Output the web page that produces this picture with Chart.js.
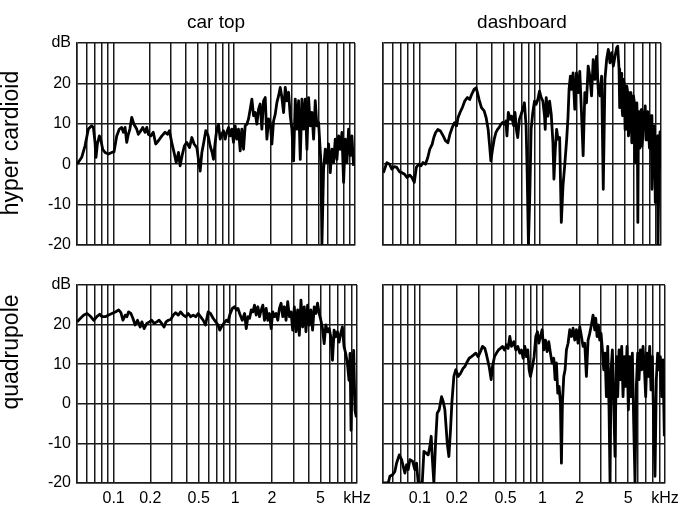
<!DOCTYPE html>
<html>
<head>
<meta charset="utf-8">
<script src="https://cdn.jsdelivr.net/npm/chart.js@4.4.1/dist/chart.umd.min.js"></script>
<style>
  html, body { margin: 0; padding: 0; background: #fff; }
  #page { position: relative; width: 680px; height: 512px; overflow: hidden; background: #fff; }
  .panel { position: absolute; }
</style>
</head>
<body>
<div id="page">
  <div class="panel" style="left:0;top:0"><canvas id="hyperCar" width="370" height="260"></canvas></div>
  <div class="panel" style="left:370px;top:0"><canvas id="hyperDash" width="310" height="260"></canvas></div>
  <div class="panel" style="left:0;top:260px"><canvas id="quadCar" width="370" height="252"></canvas></div>
  <div class="panel" style="left:370px;top:260px"><canvas id="quadDash" width="310" height="252"></canvas></div>
</div>
<script>
// frequency in kHz, level in dB
const gridFreqs = [0.05, 0.06, 0.07, 0.08, 0.09, 0.1, 0.2, 0.3, 0.4, 0.5, 0.6, 0.7, 0.8, 0.9,
                   1, 2, 3, 4, 5, 6, 7, 8, 9, 10];
const tickValues = [0.1, 0.2, 0.5, 1, 2, 5, 10];
const tickLabels = ['0.1', '0.2', '0.5', '1', '2', '5', 'kHz'];
const colTitles = ['car top', 'dashboard'];
const rowTitles = ['hyper cardioid', 'quadrupole'];

const hyperCarTop = [
  [0.05,0],[0.0547,1.7],[0.0582,4.5],[0.0621,8.7],[0.0661,9.5],[0.0683,9.1],[0.0705,5.4],[0.0718,1.7],
  [0.0737,5.0],[0.0766,7.0],[0.0785,6.2],[0.0816,3.7],[0.0853,2.9],[0.091,2.5],[0.0969,2.9],[0.1013,3.1],
  [0.1066,7.0],[0.1121,8.7],[0.1172,9.1],[0.121,7.9],[0.125,9.1],[0.129,5.4],[0.133,7.4],[0.137,8.7],
  [0.142,11.6],[0.148,9.9],[0.156,8.7],[0.161,7.4],[0.169,8.3],[0.175,9.1],[0.183,7.9],[0.189,9.1],
  [0.195,7.4],[0.204,7.0],[0.214,7.9],[0.224,5.0],[0.236,5.8],[0.252,7.0],[0.268,7.9],[0.28,7.4],
  [0.291,8.3],[0.304,5.4],[0.318,2.9],[0.331,0.4],[0.346,2.9],[0.357,-0.4],[0.373,2.5],[0.387,4.5],
  [0.405,5.4],[0.427,4.1],[0.446,6.6],[0.466,5.0],[0.491,4.1],[0.506,1.2],[0.523,-1.7],[0.54,2.9],
  [0.557,5.0],[0.582,8.3],[0.609,7.0],[0.633,4.5],[0.657,2.9],[0.674,1.2],[0.696,5.4],[0.718,8.7],
  [0.741,9.9],[0.766,6.2],[0.79,7.4],[0.816,8.3],[0.842,6.2],[0.869,7.9],[0.898,9.1],[0.927,7.0],
  [0.957,8.7],[0.987,5.4],[1.019,9.5],[1.052,6.2],[1.086,8.7],[1.121,3.3],[1.157,8.7],[1.195,3.7],
  [1.233,9.5],[1.273,9.9],[1.314,11.2],[1.357,13.6],[1.401,16.1],[1.446,12.0],[1.493,12.8],[1.541,9.9],
  [1.591,13.6],[1.642,14.9],[1.695,8.7],[1.75,15.7],[1.807,16.5],[1.865,6.2],[1.926,11.2],[1.988,10.3],
  [2.052,5.0],[2.118,10.7],[2.187,12.4],[2.258,15.3],[2.33,16.9],[2.406,19.0],[2.483,16.5],[2.564,12.8],
  [2.647,19.0],[2.732,15.7],[2.82,17.8],[2.911,12.0],[3.005,8.7],[3.102,0.8],[3.203,16.1],[3.306,8.7],
  [3.413,15.7],[3.523,1.2],[3.637,16.1],[3.754,8.7],[3.875,16.1],[4.0,3.7],[4.129,16.5],[4.263,9.5],
  [4.4,12.8],[4.542,6.2],[4.689,15.7],[4.84,9.5],[4.997,10.3],[5.224,0.4],[5.324,-19.8],[5.496,-1.2],
  [5.673,3.7],[5.856,0.4],[6.045,5.0],[6.24,-2.1],[6.442,3.7],[6.65,0.4],[6.865,6.2],[7.086,1.2],
  [7.315,7.0],[7.551,3.7],[7.795,7.9],[8.046,-4.5],[8.306,6.2],[8.574,0.4],[8.851,8.7],[9.137,2.1],
  [9.432,7.0],[9.737,-0.4]
];

const hyperDashboard = [
  [0.0504,-2.1],[0.0538,0.4],[0.0566,0],[0.0592,-1.2],[0.0619,-0.6],[0.0651,-0.8],[0.0685,-1.9],[0.0717,-2.1],
  [0.0755,-2.5],[0.0789,-3.3],[0.083,-2.7],[0.0869,-3.3],[0.0908,-4.5],[0.0944,-0.8],[0.0987,0],[0.1032,-0.4],
  [0.1073,0.4],[0.1122,0],[0.1173,1.6],[0.1219,3.7],[0.1275,4.9],[0.1317,6.6],[0.136,7.8],[0.1421,8.6],
  [0.1496,8.2],[0.1575,7.0],[0.1647,5.8],[0.1722,5.3],[0.179,7.4],[0.1872,9.1],[0.1957,10.3],[0.2034,9.5],
  [0.2087,11.5],[0.2169,12.8],[0.2268,14.0],[0.2371,15.6],[0.2496,16.5],[0.261,16.0],[0.2712,17.3],[0.2837,18.5],
  [0.2948,18.9],[0.3024,17.7],[0.3122,16.0],[0.3265,14.0],[0.3436,13.2],[0.3571,11.5],[0.371,8.6],[0.3807,4.9],
  [0.3906,0.8],[0.4033,3.7],[0.4164,6.2],[0.4299,7.8],[0.4439,8.6],[0.4583,9.1],[0.4732,9.9],[0.4886,10.3],
  [0.5044,9.9],[0.5208,10.7],[0.5309,7.0],[0.5446,12.8],[0.566,11.1],[0.5807,11.9],[0.6034,9.5],[0.619,12.8],
  [0.6351,8.6],[0.6516,6.6],[0.6728,11.1],[0.6946,12.3],[0.7172,13.6],[0.7404,15.2],[0.7644,9.5],[0.7793,-1.2],
  [0.7994,-19.8],[0.8201,-7.8],[0.8414,8.6],[0.8687,12.8],[0.897,15.6],[0.9261,14.8],[0.9562,16.0],[0.9872,18.1],
  [1.0194,16.5],[1.0524,15.6],[1.0866,11.9],[1.1006,8.6],[1.122,16.5],[1.1584,11.9],[1.1961,15.6],[1.2349,12.3],
  [1.275,5.3],[1.2997,-3.7],[1.3335,3.7],[1.368,8.6],[1.4035,6.2],[1.4491,6.6],[1.4962,-14.4],[1.5448,-5.3],
  [1.595,-0.4],[1.6574,6.2],[1.7006,11.9],[1.7336,18.5],[1.7783,21.8],[1.8127,18.5],[1.8717,22.6],[1.9325,13.6],
  [1.9953,22.6],[2.0601,17.7],[2.127,23.0],[2.1962,12.8],[2.2675,2.1],[2.3412,17.7],[2.4173,15.2],[2.4958,24.3],
  [2.577,21.8],[2.6607,16.9],[2.7471,25.9],[2.8364,21.0],[2.9286,26.7],[3.0237,18.5],[3.1219,16.9],[3.2233,21.8],
  [3.3281,-6.2],[3.4362,21.0],[3.5481,25.9],[3.6633,28.4],[3.7824,25.1],[3.9052,27.6],[4.0321,24.3],[4.163,26.7],
  [4.2983,28.8],[4.3816,29.2],[4.4953,23.5],[4.55,14.0],[4.6118,21.8],[4.67,22.5],[4.7315,15.2],[4.81,12.0],
  [4.8853,21.0],[4.96,20.0],[5.0439,8.6],[5.12,12.5],[5.2077,19.3],[5.29,18.0],[5.3772,7.0],[5.46,9.0],
  [5.5518,17.7],[5.64,16.5],[5.7322,5.3],[5.82,8.0],[5.9184,16.9],[6.01,15.5],[6.1107,0.4],[6.21,6.0],
  [6.3096,15.2],[6.37,10.0],[6.4318,-14.4],[6.51,13.0],[6.5986,8.6],[6.69,4.0],[6.7706,11.9],[6.86,13.5],
  [6.9467,4.5],[7.06,6.5],[7.1724,12.8],[7.29,9.0],[7.4039,14.4],[7.52,6.0],[7.6446,11.1],[7.77,13.0],
  [7.893,8.6],[8.02,4.0],[8.149,10.3],[8.28,12.0],[8.414,-6.2],[8.55,3.0],[8.6876,7.8],[8.83,9.5],
  [8.97,-9.5],[9.12,-2.0],[9.2612,6.2],[9.35,7.0],[9.4406,-19.8],[9.56,-8.0],[9.6852,3.7],[9.81,8.0],
  [9.9357,6.2],[10,-1.2]
];

const quadCarTop = [
  [0.0501,20.7],[0.0534,21.6],[0.0569,22.4],[0.0605,22.8],[0.0645,22.1],[0.0687,21.1],[0.0731,22.1],[0.0768,22.6],
  [0.0803,22.0],[0.0855,22.0],[0.091,22.4],[0.0969,22.8],[0.1032,23.2],[0.1099,23.7],[0.1148,23.0],[0.1192,21.1],
  [0.1246,22.4],[0.1285,22.0],[0.1326,23.2],[0.1386,22.8],[0.1439,21.6],[0.1503,19.9],[0.1571,21.1],[0.1652,19.4],
  [0.1705,20.7],[0.1781,19.0],[0.1873,20.3],[0.1969,20.7],[0.2058,21.1],[0.215,20.3],[0.2261,20.7],[0.2362,21.1],
  [0.2484,20.3],[0.2596,19.4],[0.2695,20.7],[0.2816,21.1],[0.2943,21.3],[0.3094,22.4],[0.3233,23.0],[0.3398,22.4],
  [0.3551,23.2],[0.3734,22.4],[0.3926,22.0],[0.4103,22.8],[0.4288,22.0],[0.4508,22.4],[0.474,22.0],[0.4953,22.8],
  [0.5176,22.0],[0.5442,21.1],[0.5687,19.9],[0.598,23.2],[0.6248,22.8],[0.657,21.6],[0.6907,20.7],[0.7217,19.9],
  [0.7446,18.6],[0.7684,19.4],[0.8028,20.3],[0.8442,21.1],[0.871,20.7],[0.899,22.4],[0.9452,24.1],[0.9876,24.5],
  [1.0191,23.7],[1.0515,24.1],[1.0849,22.8],[1.1407,21.1],[1.1919,22.8],[1.2301,19.0],[1.269,22.0],[1.3101,21.6],
  [1.3515,23.7],[1.3944,23.2],[1.4388,24.9],[1.4847,22.4],[1.532,24.5],[1.581,22.0],[1.6312,23.7],[1.6835,24.9],
  [1.737,21.1],[1.7924,24.1],[1.8493,21.1],[1.9085,22.8],[1.9694,19.0],[2.0322,23.2],[2.0969,22.0],[2.1636,22.8],
  [2.233,21.1],[2.304,24.1],[2.3774,25.4],[2.4529,22.0],[2.5315,24.5],[2.6121,21.1],[2.6952,25.8],[2.7809,22.0],
  [2.87,23.2],[2.9614,18.6],[3.0549,24.5],[3.1523,18.2],[3.2533,23.7],[3.357,17.3],[3.4638,26.2],[3.574,19.4],
  [3.6886,24.5],[3.8061,18.2],[3.9264,24.9],[4.0512,19.9],[4.1809,23.7],[4.314,18.6],[4.4513,24.5],[4.5929,22.8],
  [4.7389,25.4],[4.8905,22.8],[5.0466,21.1],[5.2071,19.0],[5.3728,15.2],[5.5452,19.9],[5.7216,18.2],[5.9036,19.0],
  [6.0914,16.9],[6.2866,11.0],[6.4863,18.6],[6.6928,16.9],[6.9057,18.2],[7.127,15.6],[7.3537,17.8],[7.5876,19.4],
  [7.829,14.4],[8.0799,12.7],[8.3368,10.2],[8.602,5.9],[8.766,12.7],[8.9331,-6.7],[9.16,8.5],[9.3926,13.5],
  [9.6316,-1.7],[9.8764,-3.4]
];

const quadDashboard = [
  [0.0502,-20],[0.0552,-20],[0.0569,-18.3],[0.0599,-17.9],[0.0625,-17.1],[0.0645,-15.0],[0.0679,-12.9],[0.0709,-14.1],
  [0.0731,-15.8],[0.0755,-17.5],[0.0779,-15.4],[0.0803,-16.6],[0.0829,-14.1],[0.0871,-14.5],[0.091,-16.6],[0.0939,-15.0],
  [0.0969,-20],[0.1,-20],[0.1045,-20],[0.1078,-12.0],[0.1119,-12.4],[0.1169,-12.9],[0.1206,-10.8],[0.1237,-8.2],
  [0.126,-13.3],[0.13,-20],[0.1342,-9.9],[0.1384,-2.4],[0.1437,-1.5],[0.1502,1.8],[0.155,0.6],[0.1599,-1.5],
  [0.1671,-9.9],[0.1724,-13.3],[0.1778,-6.6],[0.1823,0.2],[0.1893,6.9],[0.1965,8.6],[0.2054,6.9],[0.2146,7.7],
  [0.2256,9.0],[0.2328,9.4],[0.2402,10.3],[0.2525,11.5],[0.2638,11.9],[0.2756,12.4],[0.2861,12.8],[0.2989,11.9],
  [0.3123,13.2],[0.3243,14.5],[0.3388,14.0],[0.3495,12.4],[0.3675,9.4],[0.3815,6.1],[0.3912,9.4],[0.4061,11.9],
  [0.4217,12.8],[0.4378,13.6],[0.4546,14.0],[0.472,14.5],[0.49,13.6],[0.5088,14.9],[0.525,14.0],[0.5417,17.0],
  [0.5589,14.5],[0.5839,15.7],[0.6062,13.6],[0.6294,14.5],[0.6535,12.8],[0.6743,13.6],[0.6957,11.5],[0.7178,14.5],
  [0.7406,11.9],[0.7594,13.6],[0.7786,8.6],[0.7984,6.9],[0.8289,9.4],[0.8551,11.9],[0.8827,17.0],[0.9104,18.2],
  [0.9335,15.3],[0.9632,17.0],[0.9938,18.7],[1.0254,13.6],[1.058,16.1],[1.0914,13.2],[1.1261,15.7],[1.162,12.8],
  [1.199,10.3],[1.2372,11.5],[1.2686,6.1],[1.3006,10.3],[1.3335,2.7],[1.3674,4.4],[1.402,0.2],[1.4286,-15.0],
  [1.4555,0.2],[1.4925,6.9],[1.5304,8.6],[1.5692,13.6],[1.6189,15.3],[1.6707,18.7],[1.7238,17.0],[1.7783,19.1],
  [1.8348,16.1],[1.8932,18.7],[1.9535,15.3],[2.0152,19.5],[2.0793,17.0],[2.1455,14.5],[2.2137,15.3],[2.2841,6.9],
  [2.3568,16.1],[2.4318,17.8],[2.5092,19.9],[2.5882,22.4],[2.6706,18.7],[2.7214,21.6],[2.7904,17.0],[2.8608,19.9],
  [2.9334,16.1],[3.0078,17.8],[3.0839,13.6],[3.1623,8.6],[3.2426,12.8],[3.3246,1.8],[3.4089,14.5],[3.4954,-1.5],
  [3.5616,-20],[3.6293,8.6],[3.7213,13.6],[3.8151,0.2],[3.912,-13.3],[4.0113,11.9],[4.1123,1.8],[4.217,13.6],
  [4.3241,6.1],[4.4328,14.5],[4.5452,1.8],[4.6605,11.9],[4.7782,4.4],[4.8994,14.5],[5.0237,-1.5],[5.1523,11.9],
  [5.282,1.8],[5.416,12.8],[5.5535,-4.9],[5.6937,-20],[5.8382,4.4],[5.9863,12.8],[6.1376,6.1],[6.2933,13.6],
  [6.453,8.6],[6.6168,14.5],[6.7838,9.4],[6.9558,1.8],[7.1324,12.8],[7.3125,6.9],[7.4989,14.5],[7.6893,3.5],
  [7.8832,11.9],[8.0833,-4.9],[8.2884,-18.3],[8.4976,6.1],[8.7133,12.8],[8.9345,8.6],[9.1622,11.9],[9.3933,1.8],
  [9.6316,11.1],[9.8764,-8.2]
];

Chart.defaults.font.family = '"Liberation Sans", Arial, sans-serif';
Chart.defaults.font.size = 16;
Chart.defaults.color = '#000';

const gridColor = '#1a1a1a';

// rotated row label on the left of a panel
const rowLabel = {
  id: 'rowLabel',
  afterDraw(chart, args, opts) {
    if (!opts.text) return;
    const ctx = chart.ctx;
    ctx.save();
    ctx.translate(opts.x, opts.y);
    ctx.rotate(-Math.PI / 2);
    ctx.font = '23px "Liberation Sans", Arial, sans-serif';
    ctx.fillStyle = '#000';
    ctx.textAlign = 'center';
    ctx.textBaseline = 'middle';
    ctx.fillText(opts.text, 0, 0);
    ctx.restore();
  }
};

function makePanel(id, points, o) {
  return new Chart(document.getElementById(id), {
    type: 'line',
    data: {
      datasets: [{
        data: points.map(p => ({ x: p[0], y: p[1] })),
        borderColor: '#000',
        borderWidth: 2.8,
        borderJoinStyle: 'round',
        pointRadius: 0,
        tension: 0
      }]
    },
    options: {
      responsive: false,
      animation: false,
      events: [],
      layout: { padding: o.padding },
      plugins: {
        legend: { display: false },
        tooltip: { enabled: false },
        title: {
          display: !!o.title,
          text: o.title || '',
          fullSize: false,
          color: '#000',
          font: { size: 19, weight: 'normal' },
          padding: { top: 0, bottom: 9 }
        },
        rowLabel: o.row || {}
      },
      scales: {
        x: {
          type: 'logarithmic',
          min: 0.05,
          max: 10,
          afterBuildTicks: axis => { axis.ticks = gridFreqs.map(v => ({ value: v })); },
          afterFit: axis => { axis.height = o.xLabels ? 29 : 0; axis.paddingLeft = 0; axis.paddingRight = 0; },
          grid: { color: gridColor, lineWidth: 1.5, drawTicks: false },
          border: { color: gridColor, width: 1.5 },
          ticks: {
            display: o.xLabels,
            autoSkip: false,
            maxRotation: 0,
            padding: 6,
            callback: v => {
              const i = tickValues.indexOf(v);
              return i < 0 ? '' : tickLabels[i];
            }
          }
        },
        y: {
          min: -20,
          max: 30,
          afterFit: axis => { axis.width = o.yLabels ? 77 : 0; axis.paddingTop = 0; axis.paddingBottom = 0; },
          grid: { color: gridColor, lineWidth: 1.5, drawTicks: false },
          border: { color: gridColor, width: 1.5 },
          ticks: {
            display: o.yLabels,
            stepSize: 10,
            padding: 6,
            callback: v => (v === 30 ? 'dB' : v)
          }
        }
      }
    },
    plugins: [rowLabel]
  });
}

makePanel('hyperCar', hyperCarTop, {
  title: colTitles[0], xLabels: false, yLabels: true,
  padding: { left: 0, top: 11.2, right: 15, bottom: 15 },
  row: { text: rowTitles[0], x: 12, y: 143 }
});
makePanel('hyperDash', hyperDashboard, {
  title: colTitles[1], xLabels: false, yLabels: false,
  padding: { left: 13, top: 11.2, right: 19, bottom: 15 }
});
makePanel('quadCar', quadCarTop, {
  xLabels: true, yLabels: true,
  padding: { left: 0, top: 25, right: 13, bottom: 0 },
  row: { text: rowTitles[1], x: 12, y: 92 }
});
makePanel('quadDash', quadDashboard, {
  xLabels: true, yLabels: false,
  padding: { left: 13, top: 25, right: 15, bottom: 0 }
});
</script>
</body>
</html>
